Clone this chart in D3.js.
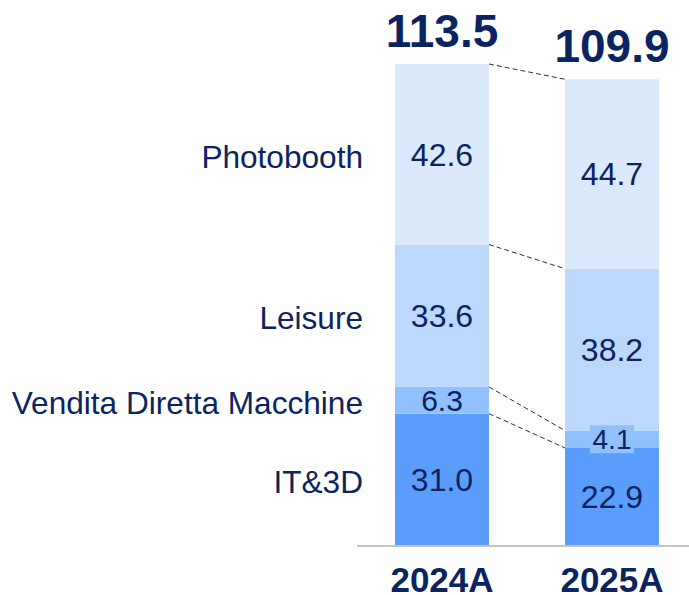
<!DOCTYPE html>
<html><head><meta charset="utf-8">
<script src="https://cdn.jsdelivr.net/npm/d3@7"></script>
<style>html,body{margin:0;padding:0;background:#fff;}svg{display:block;}</style>
</head><body>
<svg id="chart" width="689" height="595"></svg>
<script>
const years = ["2024A", "2025A"];
const segments = ["IT&3D", "Vendita Diretta Macchine", "Leisure", "Photobooth"];
const itValues = [31.0, 22.9];
const venditaValues = [6.3, 4.1];
const leisureValues = [33.6, 38.2];
const photoboothValues = [42.6, 44.7];
const totals = [113.5, 109.9];
const colors = ["#5b9dfd", "#90c1fd", "#bdd8fd", "#dbe9fd"];
const navy = "#0b2461";

const seriesValues = [itValues, venditaValues, leisureValues, photoboothValues];
const rows = years.map((y, i) => {
  const r = {year: y};
  segments.forEach((s, j) => r[s] = seriesValues[j][i]);
  return r;
});
const stack = d3.stack().keys(segments)(rows);

const svg = d3.select("#chart");
const x = d3.scaleBand().domain(years).range([357, 697]).paddingInner(0.447).paddingOuter(0.2235);
const y = d3.scaleLinear().domain([0, d3.max(totals)]).range([545, 64]);
const font = "'Liberation Sans', Arial, sans-serif";

// bars
stack.forEach((layer, j) => {
  svg.append("g").selectAll("rect").data(layer).join("rect")
    .attr("x", d => x(d.data.year))
    .attr("width", x.bandwidth())
    .attr("y", d => y(d[1]))
    .attr("height", d => y(d[0]) - y(d[1]))
    .attr("fill", colors[j]);
});

// connector dashed lines (top of each segment)
stack.forEach((layer) => {
  const a = layer[0], b = layer[1];
  svg.append("line")
    .attr("x1", x(years[0]) + x.bandwidth()).attr("y1", y(a[1]))
    .attr("x2", x(years[1])).attr("y2", y(b[1]))
    .attr("stroke", "#333").attr("stroke-width", 1).attr("stroke-dasharray", "5,3");
});

// axis baseline
svg.append("line").attr("x1", 357).attr("x2", 689).attr("y1", y(0) + 1).attr("y2", y(0) + 1)
  .attr("stroke", "#c4c4c4").attr("stroke-width", 2);

// value labels
stack.forEach((layer, j) => {
  layer.forEach((d, i) => {
    const cx = x(d.data.year) + x.bandwidth() / 2;
    const cy = (y(d[0]) + y(d[1])) / 2;
    const h = y(d[0]) - y(d[1]);
    const txt = d3.format(".1f")(d[1] - d[0]);
    const fs = h < 20 ? 28 : (h < 30 ? 30 : 32);
    if (h < 20) {
      svg.append("rect").attr("x", cx - 22).attr("y", cy - 14).attr("width", 44).attr("height", 28)
        .attr("fill", colors[j]);
    }
    svg.append("text").attr("x", cx).attr("y", cy).attr("dy", "0.36em")
      .attr("text-anchor", "middle").attr("font-family", font)
      .attr("font-size", fs).attr("fill", navy).text(txt);
  });
});

// category labels
stack.forEach((layer) => {
  const d = layer[0];
  svg.append("text").attr("x", 363).attr("y", (y(d[0]) + y(d[1])) / 2 + 2).attr("dy", "0.36em")
    .attr("text-anchor", "end").attr("font-family", font).attr("font-size", 31.6)
    .attr("fill", navy).text(layer.key);
});

// totals
years.forEach((yr, i) => {
  svg.append("text").attr("x", x(yr) + x.bandwidth() / 2).attr("y", y(totals[i]) - 17)
    .attr("text-anchor", "middle").attr("font-family", font).attr("font-weight", "bold")
    .attr("font-size", 46).attr("fill", navy).text(d3.format(".1f")(totals[i]));
});

// year labels
years.forEach((yr) => {
  svg.append("text").attr("x", x(yr) + x.bandwidth() / 2).attr("y", 592)
    .attr("text-anchor", "middle").attr("font-family", font).attr("font-weight", "bold")
    .attr("font-size", 35).attr("fill", navy).text(yr);
});
</script>
</body></html>
